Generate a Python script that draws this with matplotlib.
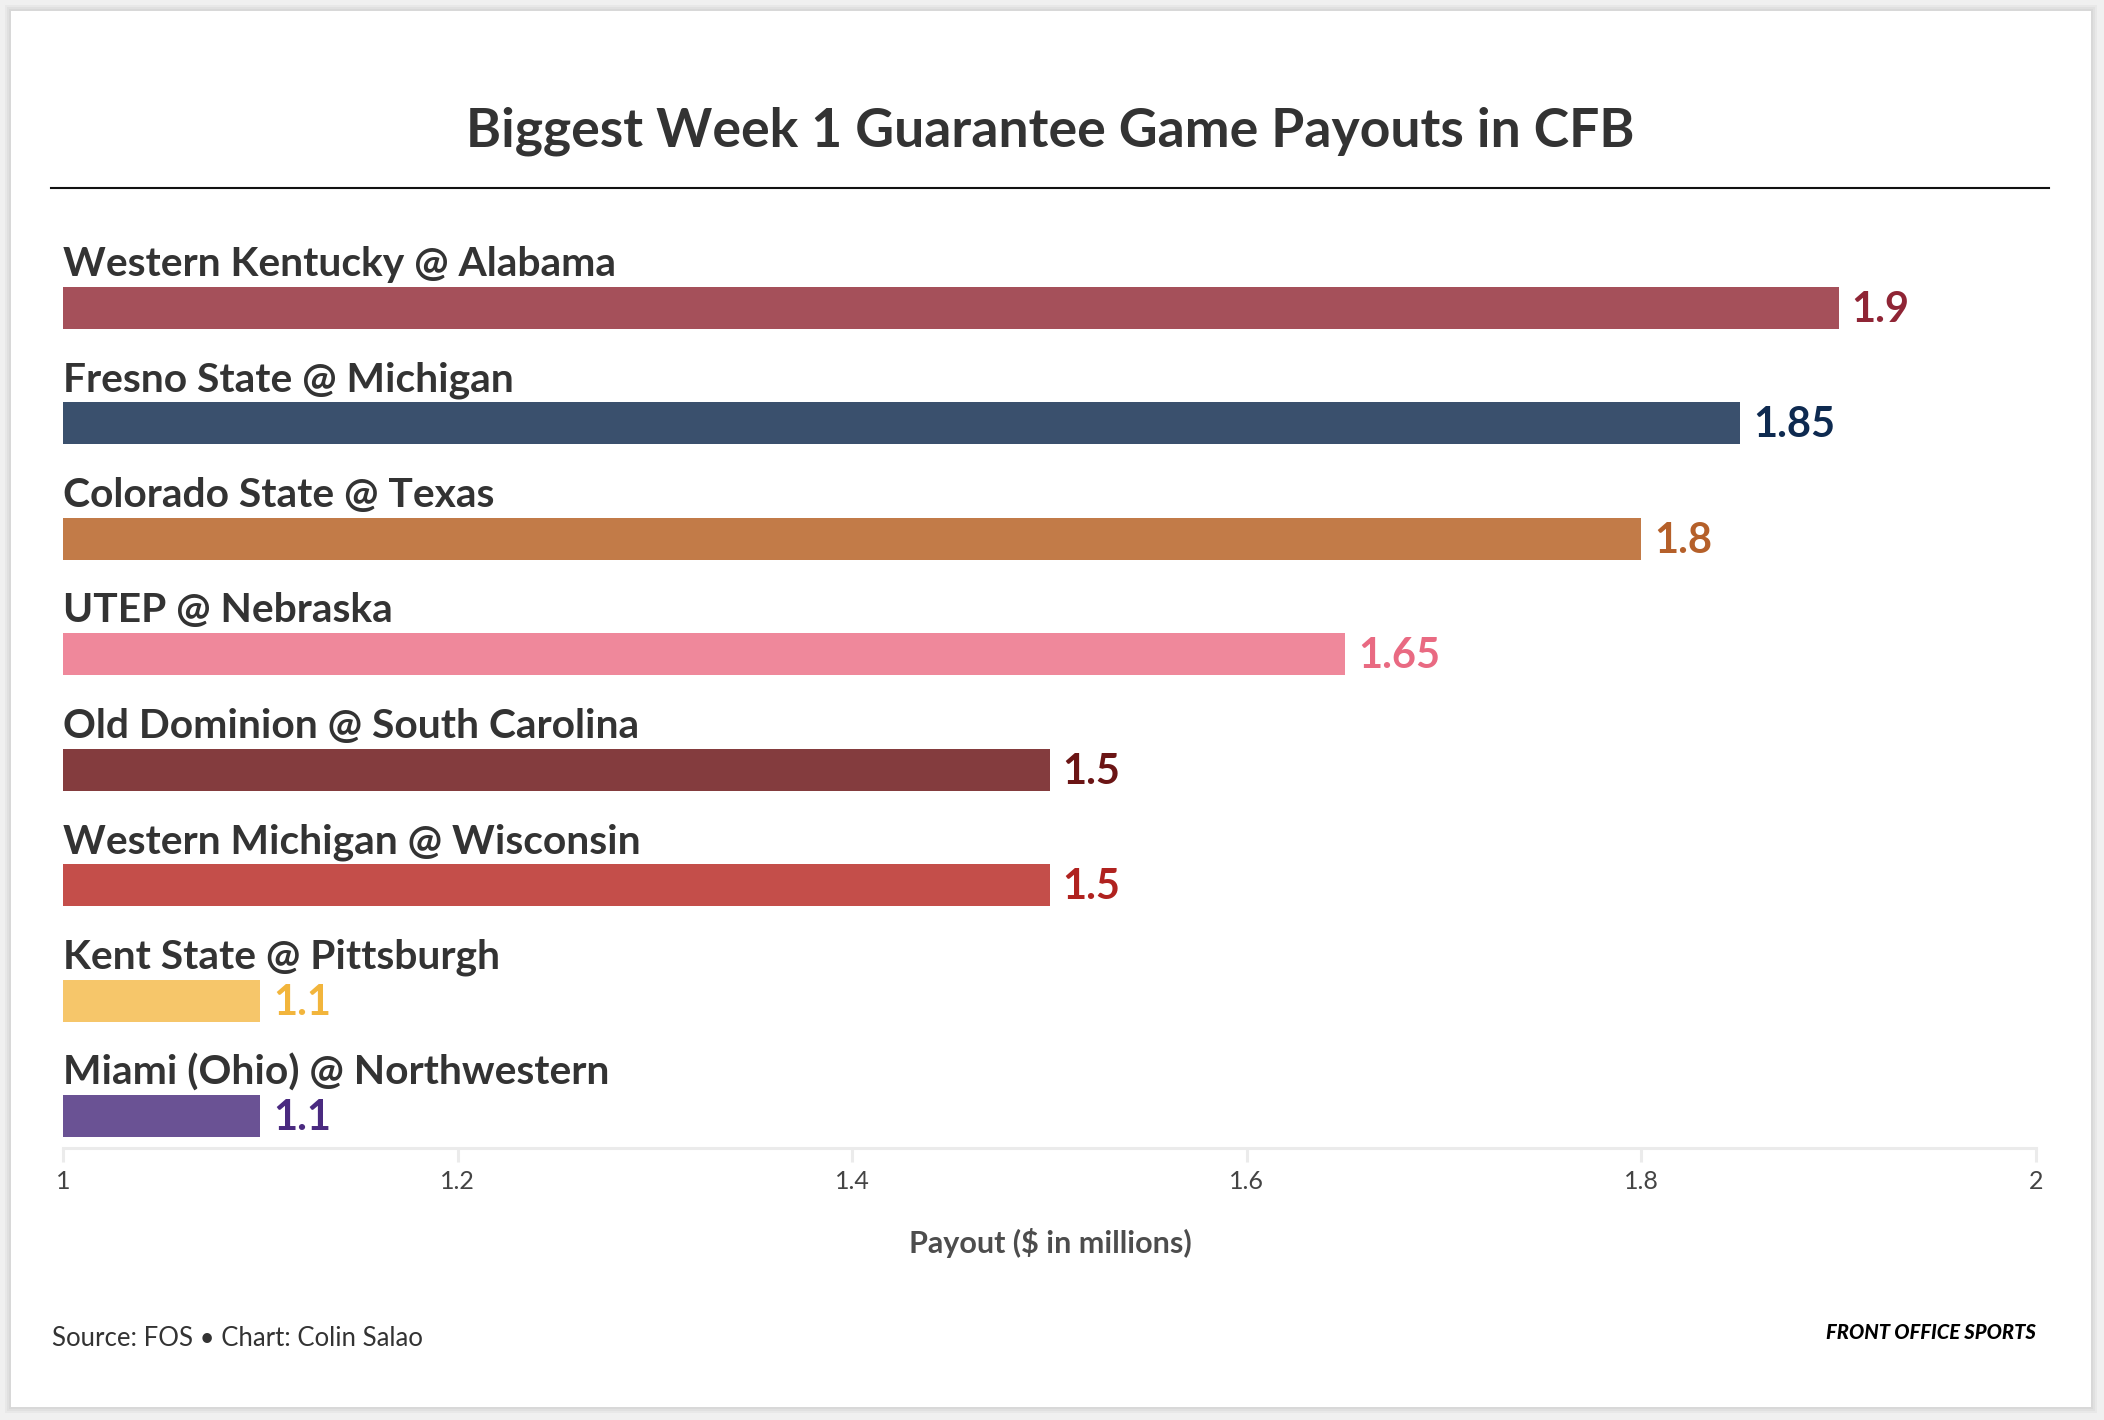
import numpy as np
import matplotlib.pyplot as plt
from matplotlib.patches import Rectangle

# data
games = ["Western Kentucky @ Alabama", "Fresno State @ Michigan", "Colorado State @ Texas",
         "UTEP @ Nebraska", "Old Dominion @ South Carolina", "Western Michigan @ Wisconsin",
         "Kent State @ Pittsburgh", "Miami (Ohio) @ Northwestern"]
payouts = [1.9, 1.85, 1.8, 1.65, 1.5, 1.5, 1.1, 1.1]
value_labels = ["1.9", "1.85", "1.8", "1.65", "1.5", "1.5", "1.1", "1.1"]
bar_colors = ["#a5505a", "#3a506d", "#c27b48", "#ef889b", "#843c3e", "#c44e4a", "#f6c66a", "#6a5294"]
text_colors = ["#8f2535", "#0e2a50", "#b5602a", "#e96a82", "#6b1515", "#b0221f", "#f2b53c", "#4a2a80"]
x_ticks = [1, 1.2, 1.4, 1.6, 1.8, 2]
x_tick_labels = ["1", "1.2", "1.4", "1.6", "1.8", "2"]

W, H = 2104, 1420
FONT = "Lato"

def fx(x):
    return x / W

def fy(y):
    return 1 - y / H

fig = plt.figure(figsize=(W / 100, H / 100), dpi=100)
fig.patch.set_facecolor("#f0f0f0")

# card with soft shadow
for i in range(3):
    fig.patches.append(Rectangle((fx(11 - 2 - i * 2), fy(1407 + 2 + i * 2)),
                                 fx(2080 + 4 + i * 4), (1396 + 4 + i * 4) / H,
                                 transform=fig.transFigure, facecolor="black",
                                 alpha=0.03, edgecolor="none", zorder=-3))
fig.patches.append(Rectangle((fx(11), fy(1407)), fx(2080), 1396 / H,
                             transform=fig.transFigure, facecolor="white",
                             edgecolor="none", zorder=-2))

# title + rule
fig.text(fx(1050), fy(147), "Biggest Week 1 Guarantee Game Payouts in CFB",
         ha="center", va="baseline", fontsize=38.5, fontweight="bold",
         color="#333333", family=FONT)
fig.add_artist(plt.Line2D([fx(51), fx(2049)], [fy(188), fy(188)],
                          transform=fig.transFigure, color="#111111", lw=1.5))

ax = fig.add_axes([fx(63), fy(1148), fx(1973), 924 / H])
ax.set_facecolor("none")

ypos = np.arange(len(games))
bar_h = 42 / 115.5
ax.barh(ypos, [p - 1 for p in payouts], left=1, height=bar_h, color=bar_colors)

for i, (g, p, lab) in enumerate(zip(games, payouts, value_labels)):
    ax.text(1, i - 0.277, g, ha="left", va="baseline", fontsize=29.3,
            fontweight="bold", color="#333333", family=FONT)
    ax.annotate(lab, xy=(p, i), xytext=(13, -14), textcoords="offset pixels",
                ha="left", va="baseline", fontsize=30, fontweight="bold",
                color=text_colors[i], family=FONT)

ax.set_xlim(1, 2)
ax.set_ylim(7.273, -0.727)
ax.set_yticks([])
ax.set_xticks(x_ticks)
ax.set_xticklabels(x_tick_labels, family=FONT, fontsize=18, color="#444444")
ax.tick_params(axis="x", length=10, width=2.2, color="#ebebeb", pad=6)
for s in ["top", "right", "left"]:
    ax.spines[s].set_visible(False)
ax.spines["bottom"].set_color("#ebebeb")
ax.spines["bottom"].set_linewidth(2.2)

fig.text(fx(1050), fy(1253), "Payout ($ in millions)", ha="center", va="baseline",
         fontsize=22, fontweight="bold", color="#4d4d4d", family=FONT)

fig.text(fx(52), fy(1346), "Source: FOS \u2022 Chart: Colin Salao", ha="left",
         va="baseline", fontsize=18.5, color="#333333", family=FONT)
fig.text(fx(2036), fy(1339), "FRONT OFFICE SPORTS", ha="right", va="baseline",
         fontsize=14.5, fontweight="black", style="italic", color="#000000", family=FONT)

fig.savefig("out.png", dpi=100, facecolor=fig.get_facecolor())
